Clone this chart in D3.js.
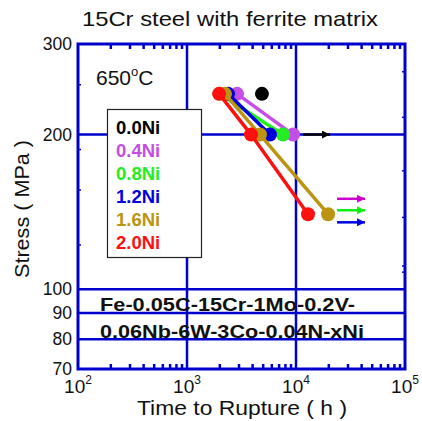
<!DOCTYPE html>
<html>
<head>
<meta charset="utf-8">
<script src="https://cdn.jsdelivr.net/npm/d3@7"></script>
<style>
  html, body { margin: 0; padding: 0; background: #fff; }
  svg { display: block; font-family: "Liberation Sans", Arial, sans-serif; }
</style>
</head>
<body>
<svg id="chart" width="422" height="421"></svg>
<script>
// Creep rupture data, 650 °C, stress (MPa) vs. time to rupture (h)
const seriesNames = ["0.0Ni", "0.4Ni", "0.8Ni", "1.2Ni", "1.6Ni", "2.0Ni"];
const seriesColors = ["#000000", "#c44ee6", "#22ee22", "#0000dd", "#bb9411", "#ff1010"];
const ruptureTimes = [
  [4870],
  [2880, 9400],
  [1990, 7600],
  [2380, 5770],
  [2230, 4670, 19700],
  [1970, 3870, 12900]
];
const ruptureStress = [
  [240],
  [240, 200],
  [240, 200],
  [240, 200],
  [240, 200, 140],
  [240, 200, 140]
];
// Unbroken (still running) specimens: series index, stress level drawn, start / tip times
const runoutSeries = [0, 1, 2, 3];
const runoutStress = [200, 150, 142.5, 135];
const runoutStart = [11600, 23800, 23800, 23800];
const runoutTip = [20500, 43000, 43000, 43000];
const runoutColors = ["#000000", "#cc00cc", "#11ee11", "#0000dd"];

const xTickExponents = [2, 3, 4, 5];
const yTickLabels = [70, 80, 90, 100, 200, 300];
const yGridValues = [80, 90, 100, 200];
const xGridValues = [1e3, 1e4];
const yMinorLeft = [250, 187, 156, 122];
const yMinorRight = [265, 216, 170, 138, 111, 108];

const axisBlue = "#0000cc";
const textColor = "#111";
const svg = d3.select("#chart");
const x = d3.scaleLog().domain([1e2, 1e5]).range([78, 405]);
const y = d3.scaleLog().domain([70, 300]).range([369, 44]);

// Stretched text helper: fixed font size, fixed drawn width
function wideText(sel, px, py, size, width, str, bold) {
  return sel.append("text").attr("x", px).attr("y", py)
    .attr("font-size", size).attr("font-weight", bold ? "bold" : "normal")
    .attr("fill", textColor)
    .attr("textLength", width).attr("lengthAdjust", "spacingAndGlyphs")
    .text(str);
}

// Title
wideText(svg, 82, 26, 21, 296, "15Cr steel with ferrite matrix", false);

// Grid lines
const g = svg.append("g");
g.selectAll("line.gx").data(xGridValues).join("line")
  .attr("x1", d => x(d)).attr("x2", d => x(d)).attr("y1", y(300)).attr("y2", y(70))
  .attr("stroke", axisBlue).attr("stroke-width", 2.5);
g.selectAll("line.gy").data(yGridValues).join("line")
  .attr("y1", d => y(d)).attr("y2", d => y(d)).attr("x1", x(1e2)).attr("x2", x(1e5))
  .attr("stroke", axisBlue).attr("stroke-width", 2.5);

// Minor ticks on x axis (top and bottom) and on both y axes
const xMinor = [];
[1e2, 1e3, 1e4].forEach(dec => { for (let k = 2; k <= 9; k++) xMinor.push(dec * k); });
g.selectAll("line.mt").data(xMinor).join("line")
  .attr("x1", d => x(d)).attr("x2", d => x(d)).attr("y1", y(300)).attr("y2", y(300) + 5)
  .attr("stroke", axisBlue).attr("stroke-width", 2.5);
g.selectAll("line.mb").data(xMinor).join("line")
  .attr("x1", d => x(d)).attr("x2", d => x(d)).attr("y1", y(70)).attr("y2", y(70) - 5)
  .attr("stroke", axisBlue).attr("stroke-width", 2.5);
g.selectAll("line.ml").data(yMinorLeft).join("line")
  .attr("x1", x(1e2)).attr("x2", x(1e2) + 3).attr("y1", d => y(d)).attr("y2", d => y(d))
  .attr("stroke", axisBlue).attr("stroke-width", 1.5);
g.selectAll("line.mr").data(yMinorRight).join("line")
  .attr("x1", x(1e5)).attr("x2", x(1e5) - 3).attr("y1", d => y(d)).attr("y2", d => y(d))
  .attr("stroke", axisBlue).attr("stroke-width", 1.5);

// Frame
svg.append("rect").attr("x", x(1e2)).attr("y", y(300))
  .attr("width", x(1e5) - x(1e2)).attr("height", y(70) - y(300))
  .attr("fill", "none").attr("stroke", axisBlue).attr("stroke-width", 3);

// Y tick labels
svg.selectAll("text.yt").data(yTickLabels).join("text")
  .attr("x", 72).attr("y", d => y(d) + 6).attr("text-anchor", "end")
  .attr("font-size", 17.5).attr("fill", textColor).text(d => d);

// X tick labels with superscript exponent
const xt = svg.selectAll("text.xt").data(xTickExponents).join("text")
  .attr("x", d => x(Math.pow(10, d))).attr("y", 393).attr("text-anchor", "middle")
  .attr("font-size", 19).attr("fill", textColor);
xt.append("tspan").text("10");
xt.append("tspan").attr("dy", -9).attr("font-size", 12).text(d => d);

// Axis titles
wideText(svg, 137, 415, 19.5, 210, "Time to Rupture ( h )", false);
svg.append("text").attr("transform", "translate(29,209) rotate(-90)")
  .attr("x", -69).attr("font-size", 19.5).attr("fill", textColor)
  .attr("textLength", 138).attr("lengthAdjust", "spacingAndGlyphs")
  .text("Stress ( MPa )");

// Temperature label
const temp = svg.append("text").attr("x", 96).attr("y", 85).attr("font-size", 21).attr("fill", textColor);
temp.append("tspan").text("650");
temp.append("tspan").attr("dy", -9).attr("font-size", 13).text("o");
temp.append("tspan").attr("dy", 9).text("C");

// Composition label
wideText(svg, 100, 311, 19, 255, "Fe-0.05C-15Cr-1Mo-0.2V-", true);
wideText(svg, 100, 338, 19, 264, "0.06Nb-6W-3Co-0.04N-xNi", true);

// Legend
const lg = svg.append("g");
lg.append("rect").attr("x", 107.5).attr("y", 109.5).attr("width", 94).attr("height", 148)
  .attr("fill", "#fff").attr("stroke", "#222").attr("stroke-width", 1.2);
lg.selectAll("text").data(seriesNames).join("text")
  .attr("x", 116).attr("y", (d, i) => 134 + i * 23)
  .attr("font-size", 18.5).attr("font-weight", "bold")
  .attr("fill", (d, i) => seriesColors[i]).text(d => d);

// Runout arrows
const arrowDefs = svg.append("defs");
runoutSeries.forEach((s, i) => {
  arrowDefs.append("marker").attr("id", "arr" + i)
    .attr("viewBox", "0 0 10 10").attr("refX", 10).attr("refY", 5)
    .attr("markerWidth", 3.4).attr("markerHeight", 3.2).attr("markerUnits", "strokeWidth")
    .attr("orient", "auto")
    .append("path").attr("d", "M0,0 L10,5 L0,10 Z").attr("fill", runoutColors[i]);
});
svg.selectAll("line.ro").data(runoutSeries).join("line")
  .attr("x1", (d, i) => x(runoutStart[i])).attr("x2", (d, i) => x(runoutTip[i]))
  .attr("y1", (d, i) => y(runoutStress[i])).attr("y2", (d, i) => y(runoutStress[i]))
  .attr("stroke", (d, i) => runoutColors[i]).attr("stroke-width", 2.5)
  .attr("marker-end", (d, i) => "url(#arr" + i + ")");

// Data series: connecting lines then circles, drawn in series order
const line = d3.line().x(d => x(d[0])).y(d => y(d[1]));
seriesNames.forEach((name, i) => {
  const pts = ruptureTimes[i].map((t, k) => [t, ruptureStress[i][k]]);
  const sg = svg.append("g");
  if (pts.length > 1) {
    sg.append("path").attr("d", line(pts)).attr("fill", "none")
      .attr("stroke", seriesColors[i]).attr("stroke-width", 3.5);
  }
  sg.selectAll("circle").data(pts).join("circle")
    .attr("cx", d => x(d[0])).attr("cy", d => y(d[1])).attr("r", 7)
    .attr("fill", seriesColors[i]);
});
</script>
</body>
</html>
